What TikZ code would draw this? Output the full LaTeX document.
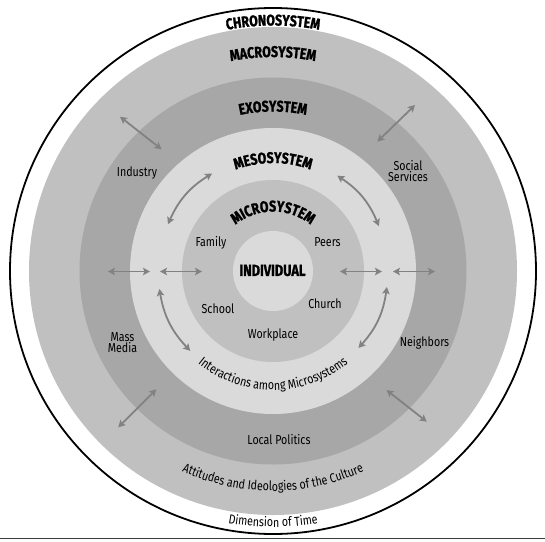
\documentclass[tikz,border=0pt]{standalone}
\usepackage{fontspec}
\setmainfont{Fira Sans}[FakeStretch=0.82]
\newfontfamily\heavyfont{Fira Sans}[FakeStretch=0.80, BoldFeatures={FakeBold=1.3}]
\usetikzlibrary{arrows.meta,decorations.text}
\definecolor{macroc}{RGB}{192,192,192}
\definecolor{exoc}{RGB}{167,167,167}
\definecolor{mesoc}{RGB}{218,218,218}
\definecolor{microc}{RGB}{192,192,192}
\definecolor{indc}{RGB}{218,218,218}
\definecolor{arrgray}{RGB}{130,130,130}
\definecolor{rulegray}{RGB}{60,60,60}
\newcommand\TitleFont{\heavyfont\bfseries\fontsize{15.5}{16}\selectfont}
\newcommand\LabelFont{\fontsize{13}{11.5}\selectfont}
\begin{document}
\begin{tikzpicture}[x=1pt,y=1pt,
  lbl/.style={font=\LabelFont, text=black, align=center, inner sep=0pt},
  arr/.style={draw=arrgray, line width=1.8pt,
    {Stealth[length=7pt,width=7.5pt,inset=1.5pt]}-{Stealth[length=7pt,width=7.5pt,inset=1.5pt]}},
  toptext/.style={decorate, decoration={text along path, text align=center, text={|\TitleFont|#1}}},
  bottext/.style={decorate, decoration={text along path, text align=center, text={|\LabelFont|#1}}},
]
\useasboundingbox (-273,271) rectangle (272,-270);
% rings
\coordinate (c) at (0,0);
\fill[macroc] (c) circle[radius=244];
\fill[exoc] (c) circle[radius=193.5];
\fill[mesoc] (c) circle[radius=143];
\fill[microc] (c) circle[radius=91];
\fill[indc] (c) circle[radius=40];
\draw[line width=1.8pt] (c) circle[radius=263];
% bottom rule
\coordinate (rl) at (-273,-267.5);
\coordinate (rr) at (272,-267.5);
\draw[rulegray, line width=1.4pt] (rl) -- (rr);
% titles along arcs
\path[toptext=CHRONOSYSTEM] (180:245.5) arc[start angle=180,end angle=0,radius=245.5];
\path[toptext=MACROSYSTEM] (180:214) arc[start angle=180,end angle=0,radius=214];
\path[toptext=EXOSYSTEM] (180:159.5) arc[start angle=180,end angle=0,radius=159.5];
\path[toptext=MESOSYSTEM] (180:108) arc[start angle=180,end angle=0,radius=108];
\path[toptext=MICROSYSTEM] (180:59.5) arc[start angle=180,end angle=0,radius=59.5];
% bottom texts along arcs
\path[bottext={Interactions among Microsystems}] (180:119) arc[start angle=180,end angle=360,radius=119];
\path[bottext={Attitudes and Ideologies of the Culture}] (180:220) arc[start angle=180,end angle=360,radius=220];
\path[bottext={Dimension of Time}] (180:256) arc[start angle=180,end angle=360,radius=256];
% labels
\node[font=\heavyfont\bfseries\fontsize{16}{16}\selectfont, inner sep=0pt] (ind) at (-0.5,0.5) {INDIVIDUAL};
\node[lbl] (family) at (-62,28.5) {Family};
\node[lbl] (peers) at (54.5,28.5) {Peers};
\node[lbl] (school) at (-55,-37.5) {School};
\node[lbl] (church) at (52,-33) {Church};
\node[lbl] (work) at (0,-64.5) {Workplace};
\node[lbl] (industry) at (-136,98) {Industry};
\node[lbl] (social) at (135,100) {Social\\Services};
\node[lbl] (mass) at (-150.5,-71.5) {Mass\\Media};
\node[lbl] (neigh) at (151.5,-71.5) {Neighbors};
\node[lbl] (local) at (6,-169) {Local Politics};
% horizontal arrows
\coordinate (h1a) at (-165,-0.5); \coordinate (h1b) at (-123,-0.5);
\coordinate (h2a) at (-113,-0.5); \coordinate (h2b) at (-71,-0.5);
\coordinate (h3a) at (67,-0.5);   \coordinate (h3b) at (109,-0.5);
\coordinate (h4a) at (120,-0.5);  \coordinate (h4b) at (162,-0.5);
\draw[arr] (h1a) -- (h1b);
\draw[arr] (h2a) -- (h2b);
\draw[arr] (h3a) -- (h3b);
\draw[arr] (h4a) -- (h4b);
% diagonal arrows
\coordinate (d1a) at (-153,154.3);  \coordinate (d1b) at (-111.4,121.7);
\coordinate (d2a) at (104.3,129.3); \coordinate (d2b) at (142,166);
\coordinate (d3a) at (-154.8,-156.3); \coordinate (d3b) at (-116.6,-118.3);
\coordinate (d4a) at (113.5,-119);  \coordinate (d4b) at (153.8,-150.7);
\draw[arr] (d1a) -- (d1b);
\draw[arr] (d2a) -- (d2b);
\draw[arr] (d3a) -- (d3b);
\draw[arr] (d4a) -- (d4b);
% curved arrows in the mesosystem ring
\coordinate (k1a) at (156:115); \coordinate (k1b) at (122:115);
\coordinate (k2a) at (23:115);  \coordinate (k2b) at (56:115);
\coordinate (k3a) at (189:115); \coordinate (k3b) at (224:115);
\coordinate (k4a) at (-8:115);  \coordinate (k4b) at (-42:115);
\draw[arr] (k1a) to[bend left=17] (k1b);
\draw[arr] (k2a) to[bend right=17] (k2b);
\draw[arr] (k3a) to[bend right=17] (k3b);
\draw[arr] (k4a) to[bend left=17] (k4b);
\end{tikzpicture}
\end{document}
